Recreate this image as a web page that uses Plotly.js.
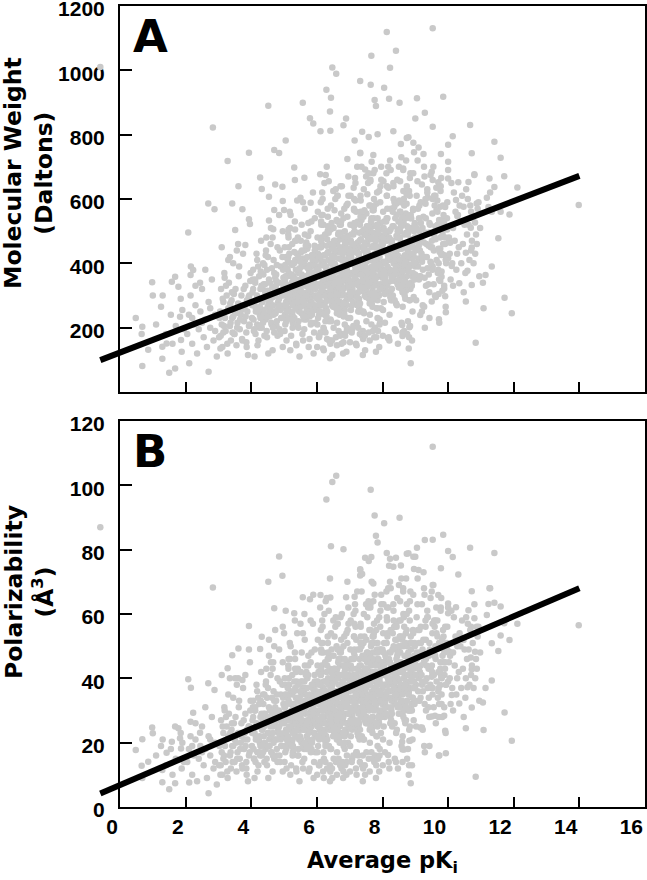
<!DOCTYPE html>
<html><head><meta charset="utf-8">
<script src="https://cdn.plot.ly/plotly-3.0.1.min.js"></script>
<style>body{margin:0;background:#fff}#chart{width:647px;height:880px}</style>
</head><body><div id="chart"></div>
<script>
// Average pKi (shared by both panels: same compounds)
const pKi = [
-0.6,0.48,0.68,0.66,0.68,0.98,0.86,1.29,1.5,1.68,
1.29,1.42,1.58,1.68,1.78,2.08,1.83,1.86,1.88,2.11,
2.16,2.23,2.15,2.44,2.69,2.88,2.7,3.28,3.61,3.42,
3.73,3.51,3.93,3.96,3.82,4.27,4.32,4.73,4.95,5.31,
5.33,5.62,6.1,6.27,6.93,7.32,7.47,7.67,4.54,4.7,
5.0,5.5,5.81,4.96,4.54,4.67,1.0,3.1,3.35,2.83,
8.13,9.53,8.41,7.66,8.23,6.47,6.59,7.32,7.64,8.05,
6.29,6.43,7.76,8.2,8.52,9.05,9.85,7.8,4.52,5.57,
6.4,9.29,9.0,5.79,5.89,6.89,6.81,6.11,6.41,5.05,
3.93,4.7,4.85,7.15,7.38,7.58,7.85,8.33,8.56,8.74,
8.94,9.1,9.53,10.14,10.0,9.78,7.32,7.72,10.67,8.79,
11.41,10.72,11.6,10.0,10.0,10.8,11.71,10.0,11.26,10.62,
10.31,9.7,9.53,11.41,12.11,13.98,11.87,11.6,11.33,11.18,
10.87,10.47,10.24,9.76,11.53,10.69,10.82,10.28,10.72,10.54,
10.06,10.0,10.11,9.79,11.33,11.14,11.06,10.59,10.72,10.34,
10.54,11.72,11.94,10.84,8.86,9.93,9.72,8.82,8.61,8.17,
8.6,9.15,9.27,9.5,9.91,9.88,9.76,9.5,9.8,11.08,
11.28,11.23,10.7,10.03,9.43,9.2,8.66,8.84,9.6,9.73,
1.1,1.25,1.4,1.55,1.7,1.85,1.95,1.3,1.6,1.9,
2.05,2.1,2.15,2.2,2.25,2.3,2.35,2.4,2.45,2.5,
2.55,2.6,2.65,2.7,2.75,2.8,2.85,2.9,2.95,2.5,
2.6,2.3,2.75,2.9,2.2,
3.02,3.05,3.08,3.1,3.12,3.15,3.18,3.2,3.22,3.25,
3.28,3.3,3.32,3.35,3.38,3.4,3.42,3.45,3.48,3.5,
3.52,3.55,3.58,3.6,3.62,3.65,3.68,3.7,3.72,3.75,
3.78,3.8,3.82,3.85,3.88,3.9,3.92,3.95,3.98,3.6,
3.3,3.85,3.45,3.7,3.15,
4.02,4.04,4.06,4.08,4.1,4.12,4.14,4.16,4.18,4.2,
4.22,4.24,4.26,4.28,4.3,4.32,4.34,4.36,4.38,4.4,
4.42,4.44,4.46,4.48,4.5,4.52,4.54,4.56,4.58,4.6,
4.62,4.64,4.66,4.68,4.7,4.72,4.74,4.76,4.78,4.8,
4.82,4.84,4.86,4.88,4.9,4.92,4.94,4.96,4.98,4.15,
4.25,4.35,4.45,4.55,4.65,4.75,4.85,4.95,4.05,4.3,
4.5,4.7,4.9,4.1,4.6,4.8,4.4,4.2,4.65,4.85,
5.01,5.03,5.05,5.07,5.09,5.11,5.13,5.15,5.17,5.19,
5.21,5.23,5.25,5.27,5.29,5.31,5.33,5.35,5.37,5.39,
5.41,5.43,5.45,5.47,5.49,5.51,5.53,5.55,5.57,5.59,
5.61,5.63,5.65,5.67,5.69,5.71,5.73,5.75,5.77,5.79,
5.81,5.83,5.85,5.87,5.89,5.91,5.93,5.95,5.97,5.99,
5.02,5.06,5.1,5.14,5.18,5.22,5.26,5.3,5.34,5.38,
5.42,5.46,5.5,5.54,5.58,5.62,5.66,5.7,5.74,5.78,
5.82,5.86,5.9,5.94,5.98,5.04,5.12,5.2,5.28,5.36,
5.44,5.52,5.6,5.68,5.76,5.84,5.92,5.96,5.08,5.16,
5.24,5.32,5.4,5.48,5.56,5.64,5.72,5.8,5.88,5.6,
6.01,6.03,6.05,6.07,6.09,6.11,6.13,6.15,6.17,6.19,
6.21,6.23,6.25,6.27,6.29,6.31,6.33,6.35,6.37,6.39,
6.41,6.43,6.45,6.47,6.49,6.51,6.53,6.55,6.57,6.59,
6.61,6.63,6.65,6.67,6.69,6.71,6.73,6.75,6.77,6.79,
6.81,6.83,6.85,6.87,6.89,6.91,6.93,6.95,6.97,6.99,
6.02,6.06,6.1,6.14,6.18,6.22,6.26,6.3,6.34,6.38,
6.42,6.46,6.5,6.54,6.58,6.62,6.66,6.7,6.74,6.78,
6.82,6.86,6.9,6.94,6.98,6.04,6.08,6.12,6.16,6.2,
6.24,6.28,6.32,6.36,6.4,6.44,6.48,6.52,6.56,6.6,
6.64,6.68,6.72,6.76,6.8,6.84,6.88,6.92,6.96,6.0,
6.15,6.25,6.35,6.45,6.55,6.65,6.75,6.85,6.95,6.05,
6.2,6.3,6.4,6.5,6.6,6.7,6.8,6.9,6.1,6.3,
6.5,6.7,6.9,6.4,6.6,6.8,6.2,6.45,6.65,6.85,
7.01,7.03,7.05,7.07,7.09,7.11,7.13,7.15,7.17,7.19,
7.21,7.23,7.25,7.27,7.29,7.31,7.33,7.35,7.37,7.39,
7.41,7.43,7.45,7.47,7.49,7.51,7.53,7.55,7.57,7.59,
7.61,7.63,7.65,7.67,7.69,7.71,7.73,7.75,7.77,7.79,
7.81,7.83,7.85,7.87,7.89,7.91,7.93,7.95,7.97,7.99,
7.02,7.06,7.1,7.14,7.18,7.22,7.26,7.3,7.34,7.38,
7.42,7.46,7.5,7.54,7.58,7.62,7.66,7.7,7.74,7.78,
7.82,7.86,7.9,7.94,7.98,7.04,7.08,7.12,7.16,7.2,
7.24,7.28,7.32,7.36,7.4,7.44,7.48,7.52,7.56,7.6,
7.64,7.68,7.72,7.76,7.8,7.84,7.88,7.92,7.96,7.0,
7.15,7.25,7.35,7.45,7.55,7.65,7.75,7.85,7.95,7.05,
7.2,7.3,7.4,7.5,7.6,7.7,7.8,7.9,7.1,7.3,
7.5,7.7,7.9,7.4,7.6,7.8,7.2,7.45,7.65,7.85,
8.01,8.03,8.05,8.07,8.09,8.11,8.13,8.15,8.17,8.19,
8.21,8.23,8.25,8.27,8.29,8.31,8.33,8.35,8.37,8.39,
8.41,8.43,8.45,8.47,8.49,8.51,8.53,8.55,8.57,8.59,
8.61,8.63,8.65,8.67,8.69,8.71,8.73,8.75,8.77,8.79,
8.81,8.83,8.85,8.87,8.89,8.91,8.93,8.95,8.97,8.99,
8.02,8.06,8.1,8.14,8.18,8.22,8.26,8.3,8.34,8.38,
8.42,8.46,8.5,8.54,8.58,8.62,8.66,8.7,8.74,8.78,
8.82,8.86,8.9,8.94,8.98,8.04,8.08,8.12,8.16,8.2,
8.24,8.28,8.32,8.36,8.4,8.44,8.48,8.52,8.56,8.6,
8.64,8.68,8.72,8.76,8.8,8.84,8.88,8.92,8.96,8.0,
8.15,8.35,8.55,8.75,8.95,8.25,8.45,8.65,8.85,8.5,
9.02,9.05,9.08,9.11,9.14,9.17,9.2,9.23,9.26,9.29,
9.32,9.35,9.38,9.41,9.44,9.47,9.5,9.53,9.56,9.59,
9.62,9.65,9.68,9.71,9.74,9.77,9.8,9.83,9.86,9.89,
9.04,9.1,9.16,9.22,9.28,9.34,9.4,9.46,9.52,9.58,
9.64,9.7,9.76,9.82,9.88,9.94,9.97,9.07,9.19,9.31,
9.43,9.55,9.67,9.79,9.91,9.13,9.37,9.61,9.85,9.25,
10.05,10.15,10.25,10.35,10.45,10.55,10.65,10.75,10.85,10.95,
10.1,10.2,10.3,10.4,10.5,10.6,10.7,10.8,10.9,10.15,
3.03,3.07,3.13,3.17,3.23,3.27,3.33,3.37,3.43,3.47,
3.53,3.57,3.63,3.67,3.73,3.77,3.83,3.87,3.93,3.97,
3.06,3.19,3.36,3.49,3.56,3.66,3.79,3.86,3.94,3.41,
4.03,4.07,4.11,4.13,4.17,4.21,4.23,4.27,4.31,4.33,
4.37,4.41,4.43,4.47,4.51,4.53,4.57,4.61,4.63,4.67,
4.71,4.73,4.77,4.81,4.83,4.87,4.91,4.93,4.97,4.99,
4.06,4.14,4.19,4.29,4.39,4.49,4.59,4.69,4.79,4.89,
4.09,4.18,4.28,4.38,4.48,4.58,4.68,4.78,4.88,4.98,
4.12,4.26,4.36,4.46,4.56,4.66,4.76,4.86,4.96,4.44,
5.005,5.045,5.085,5.125,5.165,5.205,5.245,5.285,5.325,5.365,
5.405,5.445,5.485,5.525,5.565,5.605,5.645,5.685,5.725,5.765,
5.805,5.845,5.885,5.925,5.965,5.025,5.065,5.105,5.145,5.185,
5.225,5.265,5.305,5.345,5.385,5.425,5.465,5.505,5.545,5.585,
5.625,5.665,5.705,5.745,5.785,5.825,5.865,5.905,5.945,5.985,
5.015,5.115,5.215,5.315,5.415,5.515,5.615,5.715,5.815,5.915,
5.035,5.135,5.235,5.335,5.435,5.535,5.635,5.735,5.835,5.935,
5.055,5.155,5.255,5.355,5.455,5.555,5.655,5.755,5.855,5.955,
5.075,5.175,5.275,5.375,5.475,5.575,5.675,5.775,5.875,5.975,
6.005,6.045,6.085,6.125,6.165,6.205,6.245,6.285,6.325,6.365,
6.405,6.445,6.485,6.525,6.565,6.605,6.645,6.685,6.725,6.765,
6.805,6.845,6.885,6.925,6.965,6.025,6.065,6.105,6.145,6.185,
6.225,6.265,6.305,6.345,6.385,6.425,6.465,6.505,6.545,6.585,
6.625,6.665,6.705,6.745,6.785,6.825,6.865,6.905,6.945,6.985,
6.015,6.115,6.215,6.315,6.415,6.515,6.615,6.715,6.815,6.915,
6.035,6.135,6.235,6.335,6.435,6.535,6.635,6.735,6.835,6.935,
6.055,6.155,6.255,6.355,6.455,6.555,6.655,6.755,6.855,6.955,
6.075,6.175,6.275,6.375,6.475,6.575,6.675,6.775,6.875,6.975,
6.095,6.195,6.295,6.395,6.495,6.595,6.695,6.795,6.895,6.995,
6.01,6.11,6.21,6.31,6.41,6.51,6.61,6.71,6.81,6.91,
6.03,6.13,6.23,6.33,6.43,6.53,6.63,6.73,6.83,6.93,
7.005,7.045,7.085,7.125,7.165,7.205,7.245,7.285,7.325,7.365,
7.405,7.445,7.485,7.525,7.565,7.605,7.645,7.685,7.725,7.765,
7.805,7.845,7.885,7.925,7.965,7.025,7.065,7.105,7.145,7.185,
7.225,7.265,7.305,7.345,7.385,7.425,7.465,7.505,7.545,7.585,
7.625,7.665,7.705,7.745,7.785,7.825,7.865,7.905,7.945,7.985,
7.015,7.115,7.215,7.315,7.415,7.515,7.615,7.715,7.815,7.915,
7.035,7.135,7.235,7.335,7.435,7.535,7.635,7.735,7.835,7.935,
7.055,7.155,7.255,7.355,7.455,7.555,7.655,7.755,7.855,7.955,
7.075,7.175,7.275,7.375,7.475,7.575,7.675,7.775,7.875,7.975,
7.095,7.195,7.295,7.395,7.495,7.595,7.695,7.795,7.895,7.995,
7.01,7.11,7.21,7.31,7.41,7.51,7.61,7.71,7.81,7.91,
7.03,7.13,7.23,7.33,7.43,7.53,7.63,7.73,7.83,7.93,
8.005,8.045,8.085,8.125,8.165,8.205,8.245,8.285,8.325,8.365,
8.405,8.445,8.485,8.525,8.565,8.605,8.645,8.685,8.725,8.765,
8.805,8.845,8.885,8.925,8.965,8.025,8.065,8.105,8.145,8.185,
8.225,8.265,8.305,8.345,8.385,8.425,8.465,8.505,8.545,8.585,
8.625,8.665,8.705,8.745,8.785,8.825,8.865,8.905,8.945,8.985,
8.015,8.115,8.215,8.315,8.415,8.515,8.615,8.715,8.815,8.915,
8.035,8.135,8.235,8.335,8.435,8.535,8.635,8.735,8.835,8.935,
8.055,8.155,8.255,8.355,8.455,8.555,8.655,8.755,8.855,8.955,
8.075,8.175,8.275,8.375,8.475,8.575,8.675,8.775,8.875,8.975,
8.095,8.195,8.295,8.395,8.495,8.595,8.695,8.795,8.895,8.995,
8.01,8.21,8.41,8.61,8.81,8.03,8.23,8.43,8.63,8.83,
9.005,9.045,9.085,9.125,9.165,9.205,9.245,9.285,9.325,9.365,
9.405,9.445,9.485,9.525,9.565,9.605,9.645,9.685,9.725,9.765,
9.805,9.845,9.885,9.925,9.965,9.025,9.125,9.225,9.325,9.425,
9.525,9.625,9.725,9.825,9.925,9.065,9.165,9.265,9.365,9.465,
9.575,9.675,9.775,9.875,9.975,9.105,9.305,9.505,9.705,9.905,
10.025,10.125,10.225,10.325,10.425,10.525,10.625,10.725,10.825,10.925,
10.075,10.175,10.275,10.375,10.475,10.575,10.675,10.775,10.875,10.975,
5.012,5.062,5.112,5.162,5.212,5.262,5.312,5.362,5.412,5.462,
5.512,5.562,5.612,5.662,5.712,5.762,5.812,5.862,5.912,5.962,
5.037,5.137,5.237,5.337,5.437,5.537,5.637,5.737,5.837,5.937,
5.087,5.187,5.287,5.387,5.487,5.587,5.687,5.787,5.887,5.987,
6.012,6.062,6.112,6.162,6.212,6.262,6.312,6.362,6.412,6.462,
6.512,6.562,6.612,6.662,6.712,6.762,6.812,6.862,6.912,6.962,
6.037,6.137,6.237,6.337,6.437,6.537,6.637,6.737,6.837,6.937,
6.087,6.187,6.287,6.387,6.487,6.587,6.687,6.787,6.887,6.987,
6.062,6.262,6.462,6.662,6.862,6.162,6.362,6.562,6.762,6.962,
6.025,6.225,6.425,6.625,6.825,
7.012,7.062,7.112,7.162,7.212,7.262,7.312,7.362,7.412,7.462,
7.512,7.562,7.612,7.662,7.712,7.762,7.812,7.862,7.912,7.962,
7.037,7.137,7.237,7.337,7.437,7.537,7.637,7.737,7.837,7.937,
7.087,7.187,7.287,7.387,7.487,7.587,7.687,7.787,7.887,7.987,
7.062,7.262,7.462,7.662,7.862,7.162,7.362,7.562,7.762,7.962,
7.025,7.225,7.425,7.625,7.825,
8.012,8.062,8.112,8.162,8.212,8.262,8.312,8.362,8.412,8.462,
8.512,8.562,8.612,8.662,8.712,8.762,8.812,8.862,8.912,8.962,
8.037,8.137,8.237,8.337,8.437,8.537,8.637,8.737,8.837,8.937,
8.087,8.187,8.287,8.387,8.487,8.587,8.687,8.787,8.887,8.987,
9.012,9.112,9.212,9.312,9.412,9.512,9.612,9.712,9.812,9.912
];
// Molecular weight (Daltons), panel A
const mw = [
1010,230,203,180,81,341,131,103,60,73,
141,151,343,358,327,496,234,162,125,89,
390,379,364,340,586,568,63,718,640,586,
568,504,537,522,457,667,631,645,638,698,
659,666,677,675,724,742,692,716,607,566,
566,604,588,594,533,506,300,450,420,822,
1119,1131,1061,1045,1008,1009,989,967,955,946,
940,915,908,912,899,913,918,889,890,899,
872,868,850,851,835,850,829,811,812,782,
744,752,743,782,809,793,801,811,771,790,
775,760,825,795,769,740,744,737,830,792,
778,742,728,716,690,677,671,664,664,653,
652,652,659,637,636,581,552,560,560,604,
586,576,597,576,478,511,527,547,449,433,
464,416,392,426,390,364,340,377,333,338,
281,293,245,153,89,248,226,201,174,167,
208,239,265,281,298,322,345,390,358,260,
620,575,560,470,230,250,190,205,300,215,
210,265,180,240,205,290,195,300,150,255,
180,240,300,150,210,270,120,195,250,320,
170,225,140,280,200,350,160,240,110,215,
380,330,260,190,230,
170,250,320,210,140,280,370,230,190,300,
120,260,340,205,160,285,230,400,180,250,
320,145,215,275,360,195,240,300,165,430,
220,270,330,185,250,115,295,210,370,460,
410,155,235,255,185,
230,310,380,190,270,340,250,430,210,290,
160,360,240,320,470,200,280,400,255,175,
335,225,305,380,265,120,350,235,295,510,
210,325,270,410,185,300,245,365,220,450,
280,340,195,260,390,310,230,140,355,285,
200,320,440,250,130,330,290,420,350,230,
315,370,255,110,265,175,395,250,480,550,
270,350,420,220,310,380,490,250,330,130,
400,290,460,235,360,315,530,265,150,430,
340,280,380,110,305,470,245,355,415,295,
225,570,330,390,260,445,310,140,365,285,
500,340,240,410,320,270,455,215,375,300,
450,280,230,370,510,325,200,270,410,350,
480,250,320,390,160,440,290,360,525,235,
305,370,120,335,420,315,260,550,295,380,
220,345,275,465,325,280,400,255,360,430,
240,335,595,285,180,360,250,330,620,400,
290,370,450,240,330,410,530,270,355,135,
425,310,490,255,385,340,570,285,220,460,
365,300,405,115,325,510,265,380,440,315,
245,610,350,415,280,475,335,150,390,305,
540,360,255,435,345,290,485,230,400,320,
480,300,250,395,550,350,220,295,435,375,
505,270,340,420,170,465,310,385,555,260,
325,400,125,360,445,335,280,590,315,405,
240,370,295,495,350,305,425,275,395,460,
260,355,640,310,120,380,275,355,670,425,
460,330,410,525,320,435,370,500,340,380,
520,455,160,390,350,280,440,410,365,700,
625,520,580,105,535,475,200,450,490,210,
320,400,490,270,365,445,570,300,390,150,
460,345,530,285,420,375,610,315,250,500,
400,335,445,130,360,555,295,415,480,350,
275,655,385,450,310,515,370,170,430,340,
585,395,285,475,380,325,525,260,440,355,
520,335,280,435,595,385,250,330,475,410,
545,300,375,460,185,505,345,420,600,290,
360,440,140,395,485,370,310,635,350,445,
270,405,325,535,385,335,465,305,430,500,
290,390,680,345,125,415,305,390,700,465,
500,365,450,565,355,475,405,540,375,420,
560,495,190,430,385,315,480,450,400,250,
670,565,625,115,580,515,205,490,530,230,
360,440,530,305,400,485,610,335,425,170,
500,380,570,320,460,410,650,350,285,540,
435,370,485,150,395,595,330,450,515,385,
310,695,420,490,345,555,405,180,465,375,
625,430,320,510,415,360,565,295,475,390,
560,370,315,470,635,420,285,365,515,445,
585,335,410,500,215,545,380,455,640,325,
395,475,160,430,520,405,345,680,385,480,
305,440,360,575,420,370,505,340,465,540,
325,425,720,380,135,450,340,425,745,505,
540,400,590,515,450,690,660,600,680,700,
400,480,570,350,440,525,645,380,465,200,
540,420,605,365,495,450,685,390,335,580,
475,410,520,305,435,625,375,490,550,425,
610,415,360,510,670,460,335,405,555,485,
635,380,445,535,330,400,505,720,430,600,
525,700,595,665,575,500,385,515,460,740,
430,510,380,580,460,630,410,540,490,360,
650,470,550,400,520,600,440,675,570,330,
230,175,290,205,330,150,260,215,185,305,
245,200,390,270,160,320,235,285,205,345,
135,355,275,180,440,225,260,140,300,310,
270,225,345,180,300,390,255,205,330,280,
365,240,310,190,420,275,340,215,385,295,
250,355,205,315,270,440,230,300,380,265,
320,260,145,375,290,235,460,325,255,310,
195,410,230,335,170,285,240,395,180,330,
350,265,215,480,300,200,345,270,500,425,
300,360,255,420,330,280,395,230,345,470,
315,370,265,435,300,350,410,250,385,330,
295,425,355,270,390,240,330,285,450,310,
365,215,400,300,260,375,325,285,440,235,
345,295,420,270,385,320,255,365,300,410,
190,250,175,230,205,265,195,240,210,185,
395,480,340,505,420,365,490,455,530,440,
335,290,360,325,280,310,355,295,345,320,
160,560,270,145,385,590,225,165,415,260,
330,390,285,450,355,300,425,260,375,505,
345,400,295,470,330,380,440,275,415,360,
320,455,385,300,420,265,360,310,480,340,
395,240,430,330,285,405,355,315,470,260,
375,325,450,300,415,350,280,395,330,440,
210,270,195,250,225,290,215,260,235,200,
430,520,370,545,460,400,530,495,570,480,
365,320,390,355,310,340,385,325,375,350,
175,600,300,160,420,630,250,180,450,290,
280,345,235,310,265,300,240,325,270,305,
140,185,130,165,150,200,145,175,155,190,
560,470,650,500,580,440,610,520,480,545,
365,430,320,495,395,335,465,290,415,545,
380,440,330,515,365,420,480,305,455,400,
355,495,425,335,460,295,400,345,525,375,
435,270,470,365,315,445,390,350,515,290,
410,360,495,330,455,385,310,435,365,480,
230,300,215,275,250,320,240,290,260,225,
470,565,410,595,505,440,580,540,620,525,
400,355,430,390,345,375,420,360,410,385,
195,650,330,175,460,680,275,200,495,320,
310,380,260,340,295,330,265,355,300,335,
155,205,145,180,165,220,160,190,170,210,
610,515,700,545,630,485,660,565,520,590,
400,470,355,540,430,370,505,320,455,590,
415,480,365,560,400,460,525,335,495,440,
390,540,465,370,500,325,440,380,570,410,
475,300,515,400,345,485,425,385,560,320,
450,395,540,360,495,420,340,475,400,525,
255,330,240,300,275,350,265,315,285,250,
510,610,450,640,550,480,625,585,665,570,
435,390,470,425,380,410,460,395,450,420,
215,700,360,195,505,730,300,220,540,350,
340,415,285,370,325,360,290,385,330,365,
175,160,190,185,170,655,720,590,690,610,
440,510,390,580,470,405,545,355,495,630,
455,520,400,600,440,500,565,370,535,480,
430,580,505,410,540,285,360,270,330,310,
380,295,350,315,265,655,590,700,620,675,
610,560,640,530,590,455,420,470,445,460,
480,400,560,450,610,370,520,470,430,590,
350,620,430,530,310,490,580,400,460,510,
345,270,410,305,360,250,435,325,290,380,
330,400,275,455,310,370,240,425,345,295,
210,505,225,470,200,520,235,485,215,540,
385,315,350,280,405,340,300,395,325,365,
380,300,450,340,395,280,475,360,320,420,
365,440,305,495,345,410,270,465,380,330,
230,550,245,515,220,565,260,530,240,585,
420,350,390,310,445,375,335,430,360,400,
170,185,160,190,175,620,655,600,640,610,
290,270,300,285,275,
420,335,490,375,435,310,520,400,355,460,
405,480,340,540,385,450,300,510,420,365,
255,600,270,560,245,615,285,575,260,640,
460,385,430,345,490,410,370,470,395,440,
185,200,175,210,190,665,700,650,690,660,
310,295,325,305,300,
460,370,530,410,475,345,560,440,390,500,
445,520,375,580,420,490,335,550,455,400,
280,640,295,600,270,655,310,615,285,680,
500,420,470,380,530,445,405,510,430,480,
470,540,420,585,495,450,610,400,525,480
];
// Polarizability (Å^3), panel B
const polar = [
87,17.7,21.1,12.8,9,24.7,14.1,7.7,5.5,7.4,
11.5,16.9,20.3,25,24.5,39.7,21.4,18.2,12,7.6,
37.1,29.3,26.5,23.1,38.5,36.4,4.3,43.1,49.3,47.2,
39.5,40,49,45,41,49.1,52.9,55,71.9,60.2,
58,60,62,64,70,72,77.5,70,52,50,
54,57,58,56,47,45,22.9,41,40,68.2,
79,112,77.5,77.7,77.2,101,103,73.9,98.6,88.2,
95.6,81.1,90.6,75,89.9,80.6,84.6,84.3,70,65.2,
71,83,77.8,64.6,66,65.2,80.1,65.9,65.1,61,
56.3,61.8,77.9,65.4,72.4,76.5,82.2,74.7,75.1,78.7,
77.8,73.7,83.1,77.7,79.6,74.2,73.7,69.5,80.6,78.9,
79,67.1,62.3,63.3,60.2,58.7,57.1,62,68,61.2,
72.3,65.9,69,63.5,57,56.5,51.9,53.3,50.9,59.7,
56,51.9,62.1,41.6,48.5,46.5,48.3,50,42.8,40,
47,39,34.8,40.5,39.3,37,32.5,37.2,30.9,32.2,
24.5,29.4,20.6,9.4,7.4,16.7,16,20.6,17.9,16.2,
20.3,24.7,19,28.1,23.7,28.4,37.9,40.5,32,23.9,
68,63.1,56,48.3,19,24.7,17.9,20.6,28.4,16,
16,19,13,18,15,23,14,21,10,20,
14,18,22,10,16,21,8,15,19,25,
13,18,9,22,16,28,12,20,7,17,
31,26,21,14,19,
13,20,27,17,10,23,31,19,14,25,
9,22,29,16,12,24,19,34,14,21,
28,11,17,23,31,15,20,26,13,37,
18,23,29,14,21,8,25,17,33,40,
35,12,19,22,15,
19,27,33,15,23,30,21,38,17,25,
13,32,20,28,42,16,24,35,22,14,
29,18,26,34,23,9,31,19,26,45,
17,29,23,36,15,26,21,33,18,40,
24,30,16,22,35,27,19,11,32,25,
17,27,39,21,11,29,25,38,31,19,
28,33,21,9,22,14,35,21,43,49,
23,31,38,18,27,34,44,21,29,10,
36,25,41,19,32,28,48,22,12,39,
30,24,34,8,26,42,20,31,37,25,
18,52,29,35,22,40,27,11,33,24,
45,30,20,37,28,23,41,17,34,26,
40,24,19,33,46,28,16,23,37,31,
43,21,28,35,12,39,25,32,47,19,
27,33,9,30,38,28,22,50,26,34,
18,31,24,42,29,25,36,22,32,38,
20,30,54,25,14,33,21,29,57,36,
26,34,42,21,30,38,49,24,32,11,
39,28,45,22,36,31,53,25,19,43,
33,27,37,9,29,47,23,35,41,28,
21,57,32,38,25,44,30,12,36,27,
50,33,22,40,31,26,45,20,37,29,
44,27,22,36,51,32,19,26,40,34,
47,24,31,39,14,43,28,35,52,23,
29,37,10,33,41,30,25,55,28,37,
21,34,26,46,32,27,39,24,36,42,
23,32,59,28,9,35,24,32,62,39,
42,30,38,49,29,40,34,46,31,35,
48,42,13,36,32,25,41,38,33,65,
58,48,54,8,50,44,17,42,45,18,
29,37,46,24,33,41,53,27,36,12,
43,31,49,25,39,34,57,28,22,47,
37,30,41,10,33,52,26,38,45,32,
24,62,35,42,28,48,34,14,40,31,
55,36,25,44,35,29,49,23,41,32,
49,30,25,40,56,35,22,30,44,38,
51,27,34,43,15,47,31,39,57,26,
33,41,11,36,45,34,28,60,32,41,
24,37,29,50,35,30,43,27,40,47,
26,36,64,31,9,38,27,36,66,43,
47,33,42,53,32,44,37,51,34,39,
52,46,16,40,35,28,45,42,37,21,
63,53,59,8,55,48,17,46,50,19,
34,42,51,28,38,46,59,31,40,14,
48,36,55,30,44,39,63,33,26,52,
41,35,47,12,37,58,31,43,50,36,
29,68,40,47,32,54,38,15,45,35,
61,41,30,49,39,34,55,27,46,37,
54,35,29,45,62,40,26,34,50,43,
57,31,39,48,19,53,36,44,63,30,
37,46,13,41,51,38,32,67,36,46,
28,42,34,56,40,35,49,32,45,52,
30,41,71,36,10,43,32,41,74,49,
53,38,58,50,43,68,65,59,67,69,
38,46,55,33,42,51,63,36,45,17,
52,40,59,34,48,43,67,37,31,56,
46,39,50,28,42,61,35,47,53,41,
59,40,34,49,66,44,31,38,54,47,
62,36,43,52,31,38,49,71,41,58,
51,69,58,65,56,48,37,50,45,73,
40,48,35,54,43,59,38,51,46,33,
61,44,52,37,49,57,41,63,53,30,
19,13,25,16,28,11,22,17,14,26,
20,15,33,23,12,27,19,24,16,30,
10,30,23,14,38,18,21,10,25,26,
23,18,30,14,26,34,21,16,29,24,
32,20,27,15,37,23,30,17,34,25,
21,31,16,28,23,39,19,26,34,22,
28,22,11,33,25,19,41,29,21,27,
15,36,19,29,13,25,20,35,14,29,
31,22,17,43,26,16,30,23,45,38,
26,32,21,38,29,24,35,18,30,42,
27,33,22,39,26,31,37,20,34,29,
25,38,31,23,35,19,29,24,40,27,
32,17,36,26,22,33,28,24,39,19,
30,25,37,23,34,28,21,32,26,36,
14,20,13,18,16,21,15,19,17,14,
35,43,30,46,38,32,44,41,48,39,
29,25,32,28,24,27,31,26,30,28,
12,51,23,11,34,54,18,12,37,22,
29,35,24,41,32,26,39,22,34,47,
30,36,25,43,29,34,40,23,38,32,
28,42,35,26,38,22,32,27,44,30,
36,20,39,29,24,37,31,27,43,22,
34,28,41,26,38,31,24,36,29,40,
17,23,15,21,18,25,17,22,19,16,
39,48,33,51,42,36,49,46,53,44,
32,28,35,31,27,30,34,28,33,31,
13,56,26,12,38,59,21,14,41,25,
24,30,19,27,22,26,20,28,23,26,
10,14,9,12,11,15,10,13,11,14,
52,43,60,46,54,40,57,48,44,51,
33,40,29,46,36,30,43,26,38,51,
35,41,30,48,33,39,45,27,42,37,
32,46,39,30,43,26,37,31,49,34,
40,24,44,33,28,41,36,32,48,26,
38,33,46,30,42,35,28,40,33,45,
19,26,17,24,21,28,20,25,22,18,
44,53,38,56,47,41,55,51,58,49,
37,32,40,36,31,34,39,33,38,35,
15,61,29,13,43,64,24,16,46,28,
27,35,22,31,26,30,23,32,26,30,
11,16,10,14,12,17,11,15,13,16,
58,48,67,51,60,45,63,53,49,56,
37,44,33,51,40,34,48,29,43,56,
39,45,34,53,37,43,50,31,47,41,
36,51,44,34,47,30,41,35,54,38,
45,27,49,37,32,46,40,36,53,29,
42,37,51,33,47,39,31,45,37,50,
21,29,20,26,23,31,22,27,24,21,
48,58,42,61,52,45,60,55,64,54,
41,36,44,40,35,38,43,37,42,39,
17,68,33,15,48,71,27,18,51,32,
31,39,25,34,29,33,26,35,30,33,
13,12,14,14,13,63,70,56,67,58,
41,48,36,55,44,38,52,32,46,61,
43,49,37,57,41,47,54,34,51,45,
40,55,48,38,51,25,33,24,30,28,
35,26,32,28,23,63,56,68,59,65,
58,53,62,50,56,43,39,44,42,43,
45,37,53,42,58,34,49,44,40,56,
32,59,40,50,28,46,55,37,43,48,
31,23,37,27,32,21,39,29,25,34,
29,36,24,41,27,33,20,38,30,26,
17,46,19,43,16,48,20,44,18,49,
35,28,31,24,36,30,26,35,29,33,
35,26,41,30,36,24,44,32,28,38,
33,40,27,46,31,37,23,43,34,29,
19,51,21,48,18,53,22,49,20,55,
38,31,35,27,41,34,29,39,32,36,
13,14,12,15,13,58,61,56,60,57,
25,23,26,24,23,
39,30,46,34,40,27,49,37,32,43,
37,45,31,51,35,42,26,48,39,33,
22,57,23,53,21,59,25,54,22,61,
43,35,40,31,46,38,34,44,36,41,
14,16,13,17,15,63,67,62,66,63,
27,26,29,27,26,
43,34,51,38,45,31,54,41,36,48,
42,50,35,56,39,47,30,53,43,37,
25,62,26,58,24,64,28,60,25,66,
47,39,44,35,50,42,38,48,40,45,
44,51,39,56,47,42,58,37,50,45
];
// Regression lines
const fitX = [-0.6, 14];
const fitMW = [99, 672];
const fitPolar = [4.2, 68];
// Tick values
const xTicks = [0, 2, 4, 6, 8, 10, 12, 14, 16];
const mwTicks = [200, 400, 600, 800, 1000, 1200];
const polarTicks = [0, 20, 40, 60, 80, 100, 120];

// Split points: those left of x = 0 go on the wider overlay axes
const inX = [], inMW = [], inP = [], outX = [], outMW = [], outP = [];
pKi.forEach((x, i) => {
  if (x >= 0) { inX.push(x); inMW.push(mw[i]); inP.push(polar[i]); }
  else { outX.push(x); outMW.push(mw[i]); outP.push(polar[i]); }
});

const W = 647, H = 880, ML = 90, MR = 2, MT = 6, MB = 73;
const PW = W - ML - MR, PH = H - MT - MB;
const px = v => (v - ML) / PW;          // page px -> paper x
const py = v => (H - MB - v) / PH;      // page px -> paper y
const scale = 525 / 16;                 // px per pKi unit on visible axes
const FONT = 'DejaVu Sans, Liberation Sans, Arial, sans-serif';
const TICKFONT = 'Liberation Sans, Arial, Helvetica, sans-serif';
const gray = '#c9c9c9';
const mk = {size: 6.5, color: gray, line: {width: 0}};

const domA = [py(392), 1], domB = [0, py(421)];
const xdom = [px(120), 1];

const tickFont = {family: TICKFONT, size: 21, color: '#000', weight: 'bold'};
const baseX = {
  domain: xdom, range: [0, 16], tickvals: xTicks, ticks: 'inside', ticklen: 10, tickwidth: 2,
  tickcolor: '#000', showline: true, linewidth: 2, linecolor: '#000', mirror: true,
  showgrid: false, zeroline: false, fixedrange: true, ticklabeloverflow: 'allow',
  tickfont: tickFont
};
const baseY = {
  ticks: 'inside', ticklen: 12, tickwidth: 2, tickcolor: '#000', showline: true, linewidth: 2,
  linecolor: '#000', mirror: true, showgrid: false, zeroline: false, fixedrange: true,
  ticklabelstandoff: 9, ticklabelshift: 3, ticklabeloverflow: 'allow',
  tickfont: tickFont
};
const hidden = {visible: false, showgrid: false, zeroline: false, fixedrange: true};

const data = [
  {type: 'scatter', mode: 'markers', x: inX, y: inMW, xaxis: 'x', yaxis: 'y', marker: mk, hoverinfo: 'skip'},
  {type: 'scatter', mode: 'markers', x: inX, y: inP, xaxis: 'x2', yaxis: 'y2', marker: mk, hoverinfo: 'skip'},
  {type: 'scatter', mode: 'markers', x: outX, y: outMW, xaxis: 'x3', yaxis: 'y3', marker: mk, hoverinfo: 'skip'},
  {type: 'scatter', mode: 'lines', x: fitX, y: fitMW, xaxis: 'x3', yaxis: 'y3', line: {color: '#000', width: 6}, hoverinfo: 'skip'},
  {type: 'scatter', mode: 'markers', x: outX, y: outP, xaxis: 'x4', yaxis: 'y4', marker: mk, hoverinfo: 'skip'},
  {type: 'scatter', mode: 'lines', x: fitX, y: fitPolar, xaxis: 'x4', yaxis: 'y4', line: {color: '#000', width: 6}, hoverinfo: 'skip'}
];

const wideRange = [-(120 - ML) / scale, 16];
const titleFont = {family: FONT, size: 23.5, color: '#000', weight: 'bold'};

const layout = {
  width: W, height: H, margin: {l: ML, r: MR, t: MT, b: MB},
  paper_bgcolor: '#fff', plot_bgcolor: 'rgba(0,0,0,0)', showlegend: false,
  font: {family: FONT, color: '#000'},
  xaxis: Object.assign({}, baseX, {anchor: 'y', showticklabels: false}),
  yaxis: Object.assign({}, baseY, {anchor: 'x', domain: domA, range: [0, 1200], tickvals: mwTicks}),
  xaxis2: Object.assign({}, baseX, {anchor: 'y2', showticklabels: true, ticklabelposition: 'outside left', ticklabelstandoff: 0}),
  yaxis2: Object.assign({}, baseY, {anchor: 'x2', domain: domB, range: [0, 120], tickvals: polarTicks}),
  xaxis3: Object.assign({}, hidden, {anchor: 'y3', domain: [0, 1], range: wideRange}),
  yaxis3: Object.assign({}, hidden, {anchor: 'x3', domain: domA, range: [0, 1200]}),
  xaxis4: Object.assign({}, hidden, {anchor: 'y4', domain: [0, 1], range: wideRange}),
  yaxis4: Object.assign({}, hidden, {anchor: 'x4', domain: domB, range: [0, 120]}),
  annotations: [
    {text: 'A', xref: 'paper', yref: 'paper', x: px(131), y: py(36.5), xanchor: 'left', yanchor: 'middle',
     showarrow: false, font: {family: FONT, size: 45, color: '#000', weight: 'bold'}},
    {text: 'B', xref: 'paper', yref: 'paper', x: px(130.5), y: py(451.5), xanchor: 'left', yanchor: 'middle',
     showarrow: false, font: {family: FONT, size: 45, color: '#000', weight: 'bold'}},
    {text: 'Molecular Weight<br>(Daltons)', xref: 'paper', yref: 'paper', x: px(29), y: py(173),
     xanchor: 'center', yanchor: 'middle', textangle: -90, showarrow: false, font: titleFont},
    {text: 'Polarizability<br>(Å<sup>3</sup>)', xref: 'paper', yref: 'paper', x: px(29), y: py(592),
     xanchor: 'center', yanchor: 'middle', textangle: -90, showarrow: false, font: titleFont},
    {text: 'Average pK<sub>i</sub>', xref: 'paper', yref: 'paper', x: px(382.5), y: py(862),
     xanchor: 'center', yanchor: 'middle', showarrow: false,
     font: {family: FONT, size: 22.5, color: '#000', weight: 'bold'}}
  ]
};

Plotly.newPlot('chart', data, layout, {staticPlot: true, displayModeBar: false});
</script>
</body></html>
